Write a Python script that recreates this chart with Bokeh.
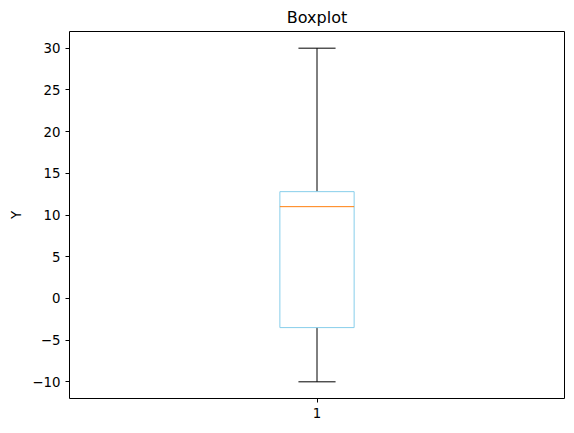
from bokeh.plotting import figure
from bokeh.embed import file_html
from bokeh.resources import INLINE
from bokeh.models import Range1d, FixedTicker

positions = [1]
labels = {1: "1"}
q1 = [-3.5]
q3 = [12.8]
med = [11.0]
lo = [-10.0]
hi = [30.0]
box_w = 0.15

p = figure(width=566, height=425, output_backend="svg", toolbar_location=None,
           title="Boxplot", x_range=Range1d(0.5, 1.5), y_range=Range1d(-12, 32),
           min_border_left=69, min_border_right=2, min_border_top=22, min_border_bottom=27)
p.title.align = "center"
p.title.text_font = "DejaVu Sans"
p.title.text_font_size = "12pt"
p.title.text_font_style = "normal"
p.title.text_color = "black"
p.xgrid.visible = False
p.ygrid.visible = False
p.outline_line_color = "black"
p.outline_line_alpha = 1

x0 = [x - box_w / 2 for x in positions]
x1 = [x + box_w / 2 for x in positions]
c0 = [x - box_w / 4 for x in positions]
c1 = [x + box_w / 4 for x in positions]

p.segment(positions, q3, positions, hi, line_color="black", line_width=1)
p.segment(positions, q1, positions, lo, line_color="black", line_width=1)
p.segment(c0, hi, c1, hi, line_color="black", line_width=1)
p.segment(c0, lo, c1, lo, line_color="black", line_width=1)
p.quad(left=x0, right=x1, bottom=q1, top=q3, fill_color=None, line_color="#87ceeb", line_width=1)
p.segment(x0, med, x1, med, line_color="#ff7f0e", line_width=1)

p.xaxis.ticker = FixedTicker(ticks=positions)
p.xaxis.major_label_overrides = labels
p.yaxis.ticker = FixedTicker(ticks=[-10, -5, 0, 5, 10, 15, 20, 25, 30])
p.yaxis.axis_label = "Y"
for ax in (p.xaxis, p.yaxis):
    ax.minor_tick_line_color = None
    ax.major_tick_in = 0
    ax.major_tick_out = 4
    ax.axis_line_color = None
    ax.major_tick_line_color = "black"
    ax.major_label_text_font = "DejaVu Sans"
    ax.major_label_text_font_size = "10pt"
    ax.major_label_text_color = "black"
    ax.axis_label_text_font = "DejaVu Sans"
    ax.axis_label_text_font_size = "10pt"
    ax.axis_label_text_font_style = "normal"
    ax.axis_label_text_color = "black"

open("out.html", "w").write(file_html(p, INLINE))
